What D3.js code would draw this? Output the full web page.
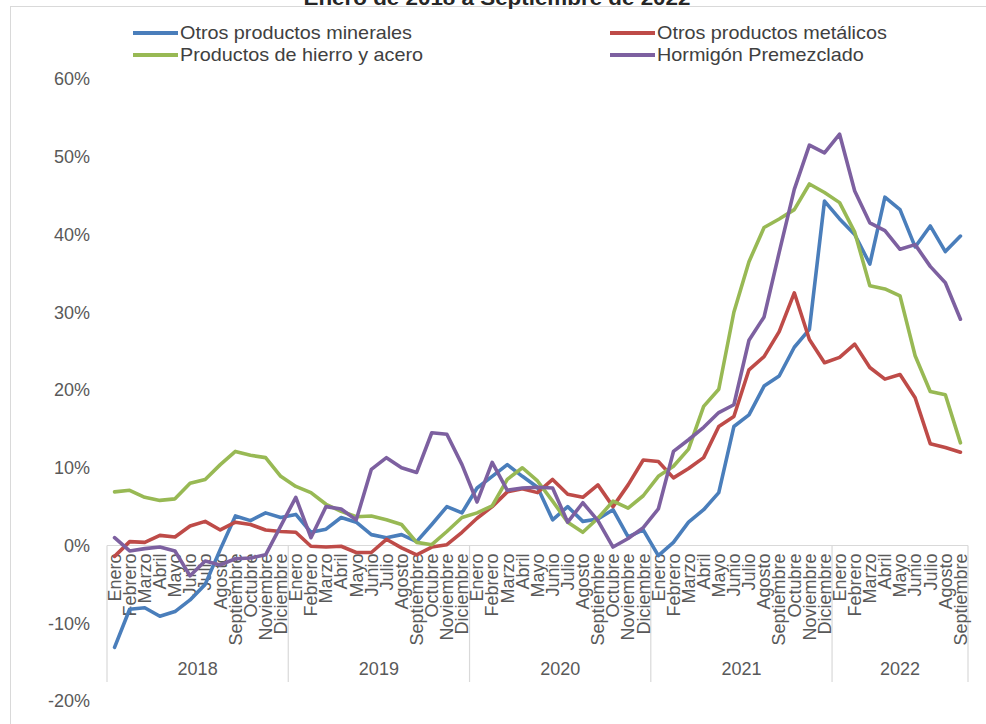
<!DOCTYPE html>
<html>
<head>
<meta charset="utf-8">
<script src="https://cdn.jsdelivr.net/npm/d3@7"></script>
<style>
  body { margin: 0; background: #fff; }
  svg { font-family: "Liberation Sans", Arial, sans-serif; }
</style>
</head>
<body>
<script>
// Enero 2018 .. Septiembre 2022
var meses = ["Enero","Febrero","Marzo","Abril","Mayo","Junio","Julio","Agosto","Septiembre","Octubre","Noviembre","Diciembre"];
var years = ["2018","2019","2020","2021","2022"];
var yTicks = [-20, -10, 0, 10, 20, 30, 40, 50, 60];

var minerales = [
  -13.1, -8.2, -8.0, -9.1, -8.5, -7.0, -5.0, -0.5, 3.8, 3.2, 4.2, 3.6,
  4.0, 1.7, 2.1, 3.6, 3.0, 1.4, 1.0, 1.4, 0.5, 2.7, 5.0, 4.2,
  7.4, 8.9, 10.4, 8.9, 7.5, 3.3, 5.0, 3.1, 3.4, 4.6, 1.1, 2.0,
  -1.3, 0.4, 3.0, 4.6, 6.8, 15.3, 16.8, 20.5, 21.8, 25.5, 27.8, 44.3,
  42.0, 40.0, 36.2, 44.8, 43.2, 38.4, 41.1, 37.8, 39.8
];
var metalicos = [
  -1.4, 0.5, 0.4, 1.3, 1.1, 2.5, 3.1, 2.0, 3.0, 2.7, 2.0, 1.8,
  1.7, -0.1, -0.2, -0.1, -0.9, -0.9, 0.8, -0.3, -1.2, -0.2, 0.1, 1.7,
  3.5, 5.0, 6.9, 7.3, 6.8, 8.5, 6.6, 6.2, 7.8, 5.0, 7.8, 11.0,
  10.8, 8.7, 9.9, 11.3, 15.3, 16.6, 22.6, 24.3, 27.5, 32.5, 26.5, 23.5,
  24.2, 25.9, 22.9, 21.4, 22.0, 19.0, 13.1, 12.6, 12.0
];
var hierro = [
  6.9, 7.1, 6.2, 5.8, 6.0, 8.0, 8.5, 10.4, 12.1, 11.6, 11.3, 8.9,
  7.6, 6.8, 5.3, 4.4, 3.7, 3.8, 3.3, 2.7, 0.4, 0.1, 1.8, 3.6,
  4.2, 5.1, 8.5, 10.0, 8.3, 5.7, 3.0, 1.7, 3.5, 5.7, 4.8, 6.4,
  8.9, 10.2, 12.4, 17.9, 20.1, 30.0, 36.5, 40.9, 42.0, 43.2, 46.5, 45.4,
  44.1, 40.3, 33.4, 33.0, 32.1, 24.4, 19.8, 19.4, 13.2
];
var hormigon = [
  1.0, -0.7, -0.4, -0.2, -0.7, -3.9, -2.0, -2.5, -1.7, -1.6, -1.2, 2.5,
  6.2, 1.0, 5.0, 4.7, 3.3, 9.8, 11.3, 10.0, 9.4, 14.5, 14.3, 10.4,
  5.6, 10.7, 7.1, 7.4, 7.5, 7.4, 3.0, 5.5, 3.2, -0.2, 0.9, 2.3,
  4.7, 12.1, 13.6, 15.2, 17.1, 18.1, 26.4, 29.4, 37.7, 45.8, 51.5, 50.5,
  52.9, 45.6, 41.5, 40.5, 38.1, 38.7, 35.9, 33.8, 29.1
];

var series = [
  {name: "Otros productos minerales", values: minerales, color: "#4a7ebb"},
  {name: "Otros productos metálicos", values: metalicos, color: "#be4b48"},
  {name: "Productos de hierro y acero", values: hierro, color: "#98b954"},
  {name: "Hormigón Premezclado", values: hormigon, color: "#7d60a0"}
];

var width = 986, height = 724;
var svg = d3.select("body").append("svg").attr("width", width).attr("height", height);

// frame + title (cut by the top edge, as in the source)
svg.append("rect").attr("x", 10.5).attr("y", 6.5).attr("width", 1000).attr("height", 1000)
  .attr("fill", "none").attr("stroke", "#d9d9d9");
svg.append("text").attr("transform", "translate(497,5)scale(1.12,1)").attr("text-anchor", "middle")
  .attr("font-size", 20).attr("font-weight", "bold").attr("fill", "#262626")
  .text("Enero de 2018 a Septiembre de 2022");

var n = minerales.length;
var labels = d3.range(n).map(function(i) { return meses[i % 12]; });

var x = d3.scaleBand().domain(d3.range(n)).range([107, 968]).padding(0);
var y = d3.scaleLinear().domain([-20, 60]).range([701, 79]);
function cx(i) { return x(i) + x.bandwidth() / 2; }

// y labels
svg.append("g").selectAll("text").data(yTicks).enter().append("text")
  .attr("x", 90).attr("y", function(d) { return y(d); }).attr("dy", "0.35em")
  .attr("text-anchor", "end").attr("font-size", 18).attr("fill", "#595959")
  .text(function(d) { return d + "%"; });

// category axis
var y0 = y(0);
svg.append("line").attr("x1", 107).attr("x2", 968).attr("y1", y0).attr("y2", y0)
  .attr("stroke", "#d9d9d9").attr("stroke-width", 1.2);
var divs = d3.range(0, n, 12).map(function(i) { return x(i); }).concat([968]);
svg.append("g").selectAll("line").data(divs).enter().append("line")
  .attr("x1", function(d) { return d; }).attr("x2", function(d) { return d; })
  .attr("y1", y0).attr("y2", 682).attr("stroke", "#d9d9d9").attr("stroke-width", 1.2);

svg.append("g").selectAll("text").data(labels).enter().append("text")
  .attr("transform", function(d, i) { return "translate(" + cx(i) + "," + (y0 + 8) + ")rotate(-90)"; })
  .attr("dy", "0.35em").attr("text-anchor", "end")
  .attr("font-size", 18).attr("fill", "#595959")
  .text(function(d) { return d; });

svg.append("g").selectAll("text").data(years).enter().append("text")
  .attr("x", function(d, k) { var a = divs[k], b = divs[k + 1]; return (a + b) / 2; })
  .attr("y", 675).attr("text-anchor", "middle")
  .attr("font-size", 18).attr("fill", "#595959")
  .text(function(d) { return d; });

// lines
var line = d3.line().x(function(d, i) { return cx(i); }).y(function(d) { return y(d); });
svg.append("g").selectAll("path").data(series).enter().append("path")
  .attr("d", function(s) { return line(s.values); })
  .attr("fill", "none").attr("stroke", function(s) { return s.color; })
  .attr("stroke-width", 3.6).attr("stroke-linejoin", "round").attr("stroke-linecap", "round");

// legend
var legPos = [[133, 33], [610, 33], [133, 55], [610, 55]];
var leg = svg.append("g").selectAll("g").data(series).enter().append("g")
  .attr("transform", function(d, i) { return "translate(" + legPos[i][0] + "," + legPos[i][1] + ")"; });
leg.append("line").attr("x1", 0).attr("x2", 45).attr("stroke", function(d) { return d.color; })
  .attr("stroke-width", 4);
leg.append("text").attr("transform", "translate(47,0)scale(1.1,1)").attr("dy", "0.35em")
  .attr("font-size", 18).attr("fill", "#404040")
  .text(function(d) { return d.name; });
</script>
</body>
</html>
